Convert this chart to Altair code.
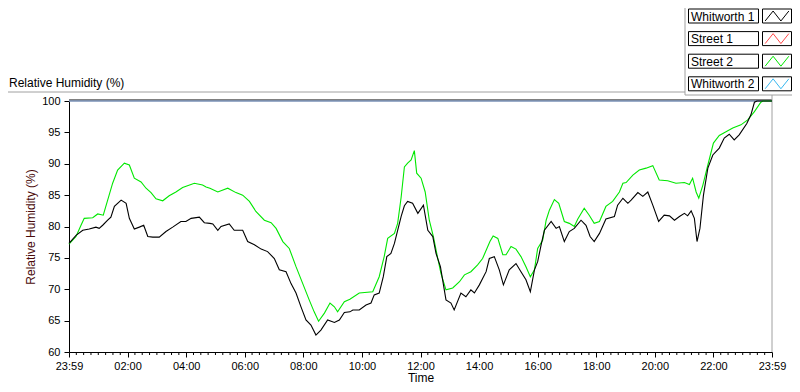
import altair as alt
import pandas as pd

# ---- data (hours after 23:59 of previous day, relative humidity %) ----
series_names = ["Whitworth 1", "Street 1", "Street 2", "Whitworth 2"]
series_colors = ["#000000", "#ff4848", "#00e800", "#38b8f0"]

w1_hours = [0.00, 0.24, 0.47, 0.69, 0.92, 1.03, 1.15, 1.32, 1.43, 1.55, 1.78, 1.95, 2.06, 2.23, 2.40,
            2.55, 2.69, 2.86, 3.08, 3.31, 3.54, 3.82, 3.99, 4.17, 4.45, 4.62, 4.81, 4.91, 5.08, 5.19,
            5.47, 5.64, 5.93, 6.10, 6.33, 6.56, 6.78, 7.01, 7.18, 7.41, 7.58, 7.75, 7.92, 8.09, 8.26,
            8.43, 8.60, 8.83, 9.06, 9.23, 9.40, 9.59, 9.69, 9.91, 10.14, 10.31, 10.42, 10.59, 10.73,
            10.85, 10.99, 11.11, 11.22, 11.34, 11.45, 11.56, 11.73, 11.91, 12.10, 12.25, 12.42, 12.53,
            12.68, 12.87, 13.04, 13.15, 13.38, 13.55, 13.72, 13.84, 14.01, 14.24, 14.35, 14.52, 14.69,
            14.83, 15.03, 15.26, 15.43, 15.60, 15.75, 15.89, 16.00, 16.12, 16.23, 16.46, 16.63, 16.74,
            16.91, 17.08, 17.25, 17.48, 17.65, 17.79, 17.93, 18.11, 18.33, 18.62, 18.73, 18.91, 19.08,
            19.19, 19.42, 19.59, 19.76, 19.93, 20.13, 20.32, 20.50, 20.67, 20.84, 21.01, 21.12, 21.24,
            21.35, 21.44, 21.54, 21.66, 21.81, 21.98, 22.20, 22.37, 22.54, 22.71, 22.88, 23.14, 23.28,
            23.40, 23.49, 24.00]
w1_rh = [77.3, 78.6, 79.4, 79.6, 79.9, 79.7, 80.2, 81.0, 81.5, 83.2, 84.2, 83.7, 81.3, 79.6, 79.9,
         80.2, 78.4, 78.3, 78.3, 79.2, 79.9, 80.8, 80.8, 81.3, 81.5, 80.6, 80.5, 80.4, 79.4, 80.0,
         80.4, 79.4, 79.4, 77.6, 77.1, 76.4, 76.0, 74.9, 73.1, 72.8, 70.9, 69.4, 67.2, 65.1, 64.3,
         62.7, 63.5, 65.1, 64.7, 65.1, 66.3, 66.4, 66.7, 66.7, 67.5, 67.8, 69.1, 69.4, 72.0,
         75.2, 75.7, 77.3, 79.4, 81.6, 83.3, 84.0, 83.7, 82.1, 83.4, 79.4, 78.4, 75.7,
         73.6, 68.3, 67.8, 66.7, 69.4, 68.8, 69.9, 69.4, 70.7, 72.8, 74.9, 75.2, 73.1,
         70.7, 73.1, 74.1, 72.8, 71.5, 69.6, 73.1, 74.4, 77.1, 79.4, 80.8, 79.7, 80.0,
         77.6, 79.2, 79.7, 81.0, 80.2, 78.4, 77.6, 78.9, 81.2, 81.6, 83.4, 84.5, 83.7,
         84.2, 85.4, 84.8, 85.5, 83.4, 80.8, 81.8, 81.7, 81.0, 81.6, 82.1, 81.7, 82.5,
         81.3, 77.6, 79.7, 85.0, 89.3, 91.4, 92.5, 94.1, 94.7, 93.8, 94.6, 96.4, 97.8,
         99.8, 100.0, 100.0]

s2_hours = [0.00, 0.24, 0.41, 0.52, 0.81, 0.98, 1.17, 1.32, 1.49, 1.66, 1.89, 2.06, 2.23, 2.46, 2.63,
            2.80, 2.97, 3.20, 3.42, 3.65, 3.88, 4.28, 4.56, 4.68, 4.81, 5.08, 5.42, 5.70, 5.93, 6.16,
            6.38, 6.67, 6.90, 7.07, 7.30, 7.52, 7.75, 7.98, 8.20, 8.37, 8.52, 8.72, 8.91, 9.06, 9.17,
            9.40, 9.59, 9.91, 10.37, 10.59, 10.76, 10.88, 11.11, 11.22, 11.34, 11.45, 11.56, 11.68,
            11.79, 11.87, 12.02, 12.16, 12.30, 12.44, 12.59, 12.70, 12.87, 13.10, 13.33, 13.50, 13.72,
            13.95, 14.12, 14.37, 14.48, 14.64, 14.81, 14.92, 15.09, 15.26, 15.43, 15.60, 15.75, 15.89,
            16.00, 16.17, 16.29, 16.40, 16.57, 16.72, 16.91, 17.08, 17.25, 17.37, 17.59, 17.76, 17.93,
            18.11, 18.33, 18.56, 18.79, 18.91, 19.02, 19.25, 19.47, 19.70, 19.93, 20.15, 20.44, 20.72,
            21.01, 21.18, 21.29, 21.41, 21.50, 21.64, 21.81, 22.00, 22.20, 22.43, 22.66, 22.94, 23.17,
            23.40, 23.62, 23.69, 24.00]
s2_rh = [77.2, 78.4, 80.2, 81.3, 81.4, 82.0, 81.8, 84.2, 86.9, 89.0, 90.1, 89.8, 87.7, 87.1, 86.1,
         85.4, 84.4, 84.1, 84.9, 85.5, 86.2, 86.9, 86.6, 86.3, 86.1, 85.5, 86.1, 85.4, 85.0, 84.0,
         82.4, 81.0, 80.6, 79.7, 77.6, 76.5, 73.6, 70.9, 68.3, 66.4, 64.9, 66.2, 67.8, 67.2, 66.4,
         68.0, 68.4, 69.4, 69.6, 72.0, 75.2, 78.1, 78.9, 80.5, 84.7, 89.5, 90.1, 90.6,
         92.1, 88.5, 87.7, 85.5, 81.0, 78.4, 74.9, 72.5, 69.9, 70.2, 71.2, 72.3, 72.8,
         73.9, 74.9, 77.6, 78.5, 78.1, 75.5, 75.5, 76.8, 76.4, 75.2, 73.6, 72.0, 73.1,
         76.5, 77.8, 81.0, 82.6, 84.3, 83.7, 80.8, 80.5, 80.0, 81.2, 82.9, 81.8, 80.5,
         80.8, 83.2, 84.0, 85.5, 86.9, 87.0, 88.2, 89.0, 89.3, 89.7, 87.4, 87.3, 86.9,
         87.0, 86.7, 87.7, 85.5, 84.5, 86.6, 89.8, 93.3, 94.5, 95.1, 95.7, 96.2, 97.0,
         98.3, 99.8, 100.0, 100.0]

s1_hours = [0.0, 24.0]
s1_rh = [100.0, 100.0]
w2_hours = [0.0, 24.0]
w2_rh = [100.0, 100.0]

x_major = [0, 2, 4, 6, 8, 10, 12, 14, 16, 18, 20, 22, 24]
x_minor = [q / 4 for q in range(97) if q % 8 != 0]
y_ticks = [60, 65, 70, 75, 80, 85, 90, 95, 100]

# ---- layout constants ----
W, H = 703, 251
FONT = "Liberation Sans"
GRAY = "#a0a0a0"

x_axis = alt.Axis(
    values=x_major,
    labelExpr="(datum.value < 0.01 || datum.value > 23.99) ? '23:59' : ((datum.value < 10 ? '0' : '') + datum.value + ':00')",
    tickSize=5, tickColor="black", domainColor="black", labelColor="black",
    labelFontSize=11, labelPadding=3, grid=False, title="Time",
    titleFontSize=12, titleFontWeight="normal", titleColor="black", titlePadding=1,
    labelFlush=False,
)
y_axis = alt.Axis(
    values=y_ticks, tickSize=5, tickColor="black", domainColor="black", labelColor="black",
    labelFontSize=11, labelPadding=4, grid=False, title="Relative Humidity (%)",
    titleFontSize=12, titleFontWeight="normal", titleColor="#4a0a0a", titlePadding=4,
)
x_scale = alt.Scale(domain=[0, 24], nice=False, zero=False)
y_scale = alt.Scale(domain=[60, 100], nice=False, zero=False)

series_data = {
    "Whitworth 1": (w1_hours, w1_rh),
    "Street 1": (s1_hours, s1_rh),
    "Street 2": (s2_hours, s2_rh),
    "Whitworth 2": (w2_hours, w2_rh),
}
color_of = dict(zip(series_names, series_colors))

one = alt.Data(values=[{}])

layers = []

# top border of plot
layers.append(alt.Chart(one).mark_rule(color="black", strokeWidth=1).encode(
    x=alt.value(0), x2=alt.value(W), y=alt.value(-1)))
# frame lines (graph panel)
LX = -4
layers.append(alt.Chart(one).mark_rule(color=GRAY, strokeWidth=1).encode(
    x=alt.value(W), y=alt.value(-6), y2=alt.value(H)))
layers.append(alt.Chart(one).mark_rule(color=GRAY, strokeWidth=1).encode(
    x=alt.value(-61), x2=alt.value(620 + LX), y=alt.value(-9)))
layers.append(alt.Chart(one).mark_rule(color=GRAY, strokeWidth=1).encode(
    x=alt.value(620 + LX), y=alt.value(-93), y2=alt.value(-6)))
layers.append(alt.Chart(one).mark_rule(color=GRAY, strokeWidth=1).encode(
    x=alt.value(620 + LX), x2=alt.value(723), y=alt.value(-6)))

# minor ticks on time axis
minor_df = pd.DataFrame({"t": x_minor})
layers.append(alt.Chart(minor_df).mark_rule(color="black", strokeWidth=1).encode(
    x=alt.X("t:Q", scale=x_scale, axis=x_axis), y=alt.value(H), y2=alt.value(H + 3)))

# series lines (draw order: Street 1, Whitworth 2, Street 2, Whitworth 1)
for name in ["Street 1", "Whitworth 2", "Street 2", "Whitworth 1"]:
    hrs, rh = series_data[name]
    df = pd.DataFrame({"t": hrs, "rh": rh})
    layers.append(alt.Chart(df).mark_line(color=color_of[name], strokeWidth=1.1,
                                          interpolate="linear").encode(
        x=alt.X("t:Q", scale=x_scale, axis=x_axis),
        y=alt.Y("rh:Q", scale=y_scale, axis=y_axis),
    ))

# graph caption
layers.append(alt.Chart(one).mark_text(text="Relative Humidity (%)", align="left", baseline="middle",
                                       font=FONT, fontSize=12, color="black").encode(
    x=alt.value(-60), y=alt.value(-18)))

# legend (plot legend panel in the top-right)
zig = "M-1,0.42L-0.33,-0.42L0.33,0.42L1,-0.42"
for i, name in enumerate(series_names):
    top = -92 + 22.6 * i
    bot = top + 14
    mid = (top + bot) / 2
    layers.append(alt.Chart(one).mark_rect(fill="white", stroke="black", strokeWidth=1).encode(
        x=alt.value(623.5 + LX), x2=alt.value(693.5 + LX), y=alt.value(top), y2=alt.value(bot)))
    layers.append(alt.Chart(one).mark_rect(fill="white", stroke="black", strokeWidth=1).encode(
        x=alt.value(697.5 + LX), x2=alt.value(722.5), y=alt.value(top), y2=alt.value(bot)))
    layers.append(alt.Chart(one).mark_text(text=name, align="left", baseline="middle",
                                           font=FONT, fontSize=12, color="black").encode(
        x=alt.value(626 + LX), y=alt.value(mid + 0.5)))
    layers.append(alt.Chart(one).mark_point(shape=zig, size=560, filled=False,
                                            color=color_of[name], strokeWidth=1, opacity=1).encode(
        x=alt.value((697.5 + LX + 722.5) / 2), y=alt.value(mid)))

chart = alt.layer(*layers).properties(
    width=W, height=H,
    autosize=alt.AutoSizeParams(type="none"),
    padding={"left": 61, "top": 93, "right": 20, "bottom": 32},
).configure(font=FONT).configure_view(stroke=None).configure_axis(
    labelFont=FONT, titleFont=FONT)

chart.save("out.html", embed_options={"renderer": "svg", "actions": False})
